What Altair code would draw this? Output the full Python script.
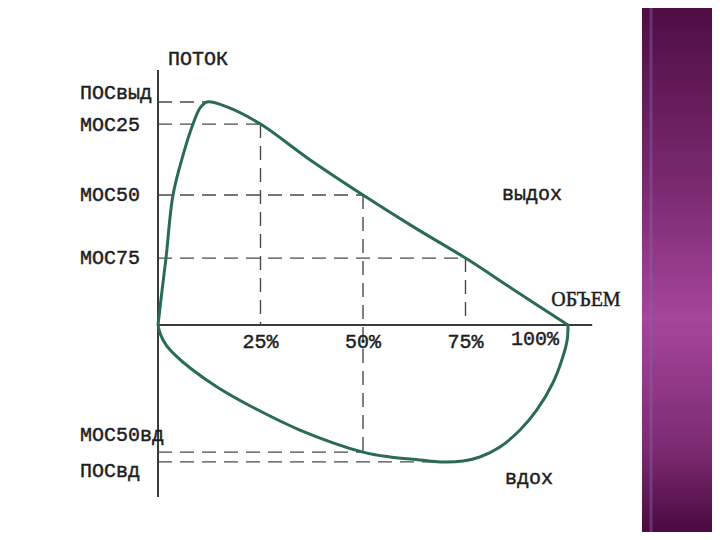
import altair as alt
import pandas as pd

# ---- data (volume in % of vital capacity, flow in arbitrary units) ----
exp_volume = [0, 1.0, 1.95, 3.66, 6.0, 8.54, 10.24, 11.95, 16.83, 25, 36.6, 50, 62.4, 75, 87.6, 100]
exp_flow = [0, 1.57, 3.0, 5.83, 7.55, 9.01, 9.73, 10.0, 9.78, 9.01, 7.47, 5.83, 4.39, 3.0, 1.48, 0]
insp_volume = [0, 0.6, 2.0, 4.2, 8.0, 14.4, 22.4, 34.6, 50, 56.6, 63.9, 68.8, 74.4, 78.5, 83.4, 88.3, 92.4, 96.3, 98.5, 99.8, 100]
insp_flow = [0, -0.42, -0.9, -1.35, -1.95, -2.78, -3.62, -4.71, -5.70, -5.92, -6.05, -6.14, -6.10, -5.92, -5.47, -4.71, -3.81, -2.60, -1.57, -0.67, 0]

ref_names = ["ПОСвыд", "МОС25", "МОС50", "МОС75", "МОС50вд", "ПОСвд"]
ref_flow = [10.0, 9.01, 5.83, 3.0, -5.70, -6.14]
ref_volume = [11.95, 25, 50, 75, 50, 68.8]

vol_ticks = [25, 50, 75, 100]
vol_labels = ["25%", "50%", "75%", "100%"]

# vertical dashed: volume, from flow, to flow
vdash_volume = [25, 50, 75]
vdash_top = [9.01, 5.83, 3.0]
vdash_bottom = [0, -5.70, 0]

# ---- scales ----
xs = alt.Scale(domain=[0, 100], range=[150, 560], nice=False, zero=False)
ys = alt.Scale(domain=[0, 10], range=[317, 94], nice=False, zero=False)

CURVE = "#2c6b53"
INK = "#1e1e1e"
DASH = "#4a4a4a"
MONO = "Liberation Mono"
TXT = dict(color=INK, stroke=INK, strokeWidth=0.45)

exp_df = pd.DataFrame({"v": exp_volume, "f": exp_flow, "o": list(range(len(exp_volume)))})
insp_df = pd.DataFrame({"v": insp_volume, "f": insp_flow, "o": list(range(len(insp_volume)))})
ref_df = pd.DataFrame({"name": ref_names, "f": ref_flow, "v1": ref_volume, "v0": [0] * len(ref_names)})
vd_df = pd.DataFrame({"v": vdash_volume, "f1": vdash_top, "f2": vdash_bottom})
tick_df = pd.DataFrame({"v": vol_ticks, "label": vol_labels, "f": [0] * len(vol_ticks)})

# decorative purple strip
strip = alt.Chart(pd.DataFrame({"a": [0]})).mark_rect(
    color=alt.Gradient(
        gradient="linear", x1=0, x2=0, y1=0, y2=1,
        stops=[alt.GradientStop(color="#4d0c42", offset=0),
               alt.GradientStop(color="#7a2a70", offset=0.35),
               alt.GradientStop(color="#a6459b", offset=0.6),
               alt.GradientStop(color="#7a2a70", offset=0.85),
               alt.GradientStop(color="#4a0a3e", offset=1)])
).encode(x=alt.value(634), x2=alt.value(704), y=alt.value(-8), y2=alt.value(524))

strip_line = alt.Chart(pd.DataFrame({"a": [0]})).mark_rule(
    color="#8a60b0", strokeWidth=3, opacity=0.45
).encode(x=alt.value(643), y=alt.value(-8), y2=alt.value(524))

hdash = alt.Chart(ref_df).mark_rule(color=DASH, strokeWidth=1.4, strokeDash=[14, 8]).encode(
    x=alt.X("v0:Q", scale=xs, axis=None), x2="v1:Q",
    y=alt.Y("f:Q", scale=ys, axis=None))

vdash = alt.Chart(vd_df).mark_rule(color=DASH, strokeWidth=1.4, strokeDash=[14, 8]).encode(
    x=alt.X("v:Q", scale=xs, axis=None),
    y=alt.Y("f1:Q", scale=ys, axis=None), y2="f2:Q")

yaxis_line = alt.Chart(pd.DataFrame({"a": [0]})).mark_rule(color="#3a3a3a", strokeWidth=2).encode(
    x=alt.X(datum=0, scale=xs, axis=None),
    y=alt.Y(datum=11.43, scale=ys, axis=None), y2=alt.datum(-7.71))

xaxis_line = alt.Chart(pd.DataFrame({"a": [0]})).mark_rule(color="#3a3a3a", strokeWidth=2).encode(
    x=alt.X(datum=0, scale=xs, axis=None), x2=alt.datum(105.9),
    y=alt.Y(datum=0, scale=ys, axis=None))

exp_line = alt.Chart(exp_df).mark_line(color=CURVE, strokeWidth=3, interpolate="catmull-rom").encode(
    x=alt.X("v:Q", scale=xs, axis=None), y=alt.Y("f:Q", scale=ys, axis=None), order="o:Q")
insp_line = alt.Chart(insp_df).mark_line(color=CURVE, strokeWidth=3, interpolate="catmull-rom").encode(
    x=alt.X("v:Q", scale=xs, axis=None), y=alt.Y("f:Q", scale=ys, axis=None), order="o:Q")

# y tick labels
label_dy = {"ПОСвыд": -9, "МОС25": 1, "МОС50": 0, "МОС75": 0, "МОС50вд": -17, "ПОСвд": 9}
ylabels = []
for name in ref_names:
    ylabels.append(
        alt.Chart(ref_df[ref_df["name"] == name]).mark_text(
            font=MONO, fontSize=20, align="left", baseline="middle", dy=label_dy[name], **TXT
        ).encode(x=alt.value(72), y=alt.Y("f:Q", scale=ys, axis=None), text="name:N"))

xlabels = alt.Chart(tick_df[tick_df["v"] < 100]).mark_text(
    font=MONO, fontSize=20, align="center", baseline="middle", dy=17, **TXT
).encode(x=alt.X("v:Q", scale=xs, axis=None), y=alt.Y("f:Q", scale=ys, axis=None), text="label:N")
xlabel100 = alt.Chart(tick_df[tick_df["v"] == 100]).mark_text(
    font=MONO, fontSize=20, align="center", baseline="middle", dy=14, dx=-33, **TXT
).encode(x=alt.X("v:Q", scale=xs, axis=None), y=alt.Y("f:Q", scale=ys, axis=None), text="label:N")

def free_text(txt, px, py, font=MONO, size=20):
    return alt.Chart(pd.DataFrame({"t": [txt]})).mark_text(
        font=font, fontSize=size, align="center", baseline="middle", **TXT
    ).encode(x=alt.value(px), y=alt.value(py), text="t:N")

t_flow = free_text("ПОТОК", 190, 51)
t_vol = free_text("ОБЪЕМ", 578, 292, font="Liberation Serif", size=20)
t_exp = free_text("выдох", 524, 186)
t_insp = free_text("вдох", 521, 470)

chart = alt.layer(
    strip, strip_line, hdash, vdash, yaxis_line, xaxis_line, exp_line, insp_line,
    *ylabels, xlabels, xlabel100, t_flow, t_vol, t_exp, t_insp
).properties(
    width=704, height=524, padding=0, autosize=alt.AutoSizeParams(type="none")
).configure_view(stroke=None)

chart.save("out.html", embed_options={"renderer": "svg", "actions": False})
